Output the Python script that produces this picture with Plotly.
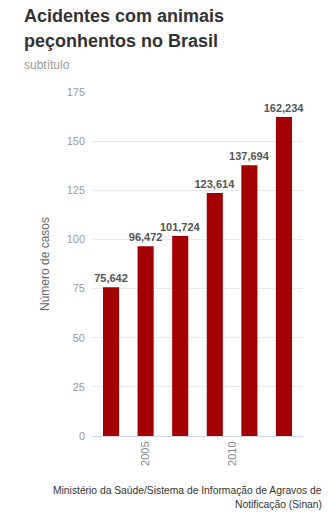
import plotly.graph_objects as go

# Casos notificados de acidentes com animais peçonhentos
anos = [2003, 2005, 2007, 2009, 2011, 2013]
casos = [75642, 96472, 101724, 123614, 137694, 162234]
casos_mil = [c / 1000 for c in casos]
rotulos = [f"{c:,}" for c in casos]

x_ticks = [2005, 2010]
y_ticks = [0, 25, 50, 75, 100, 125, 150, 175]

FONT = "Liberation Sans, Arial, sans-serif"

# plot area in pixels: left 92, right 303, top 92, bottom 436
PW, PH = 211, 344


def px_x(x):
    return (x - 92) / PW


def px_y(y):
    return (436 - y) / PH


def texto(txt, x, y, size, color, xanchor="left", yanchor="middle"):
    return dict(
        text=txt,
        xref="paper", yref="paper",
        x=px_x(x), xanchor=xanchor,
        y=px_y(y), yanchor=yanchor,
        showarrow=False,
        font=dict(family=FONT, size=size, color=color),
    )


fig = go.Figure(
    go.Bar(
        x=anos,
        y=casos_mil,
        width=0.93,
        marker=dict(color="#a50000", line=dict(width=0)),
        text=rotulos,
        textposition="outside",
        constraintext="none",
        textfont=dict(family=FONT, size=11, color="#555555", weight="bold"),
        cliponaxis=False,
        hoverinfo="x+y",
    )
)

fig.update_layout(
    width=329,
    height=521,
    margin=dict(l=92, r=26, t=92, b=85),
    paper_bgcolor="white",
    plot_bgcolor="white",
    font=dict(family=FONT),
    showlegend=False,
    annotations=[
        texto("<b>Acidentes com animais</b>", 22, 4, 18, "#333333", yanchor="top"),
        texto("<b>peçonhentos no Brasil</b>", 22, 29, 18, "#333333", yanchor="top"),
        texto("subtítulo", 22, 56, 12, "#999999", yanchor="top"),
        texto("Ministério da Saúde/Sistema de Informação de Agravos de",
              324, 490, 10.3, "#333333", xanchor="right"),
        texto("Notificação (Sinan)", 324, 505, 10.3, "#333333", xanchor="right"),
    ],
    xaxis=dict(
        range=[2001.9, 2014.1],
        tickmode="array",
        tickvals=x_ticks,
        ticktext=[str(v) for v in x_ticks],
        tickangle=-90,
        tickfont=dict(family=FONT, size=11, color="#8a8a8a"),
        showgrid=False,
        zeroline=False,
        showline=True,
        linecolor="#ccd6eb",
        linewidth=1,
        ticks="",
    ),
    yaxis=dict(
        range=[0, 175],
        tickmode="array",
        tickvals=y_ticks,
        tickfont=dict(family=FONT, size=11, color="#999999"),
        showgrid=True,
        gridcolor="#e9e9e9",
        gridwidth=1,
        zeroline=False,
        showline=False,
        ticks="",
        ticklabelstandoff=6,
        title=dict(
            text="Número de casos",
            font=dict(family=FONT, size=12, color="#666666"),
            standoff=14,
        ),
    ),
)

fig.write_html("out.html")
